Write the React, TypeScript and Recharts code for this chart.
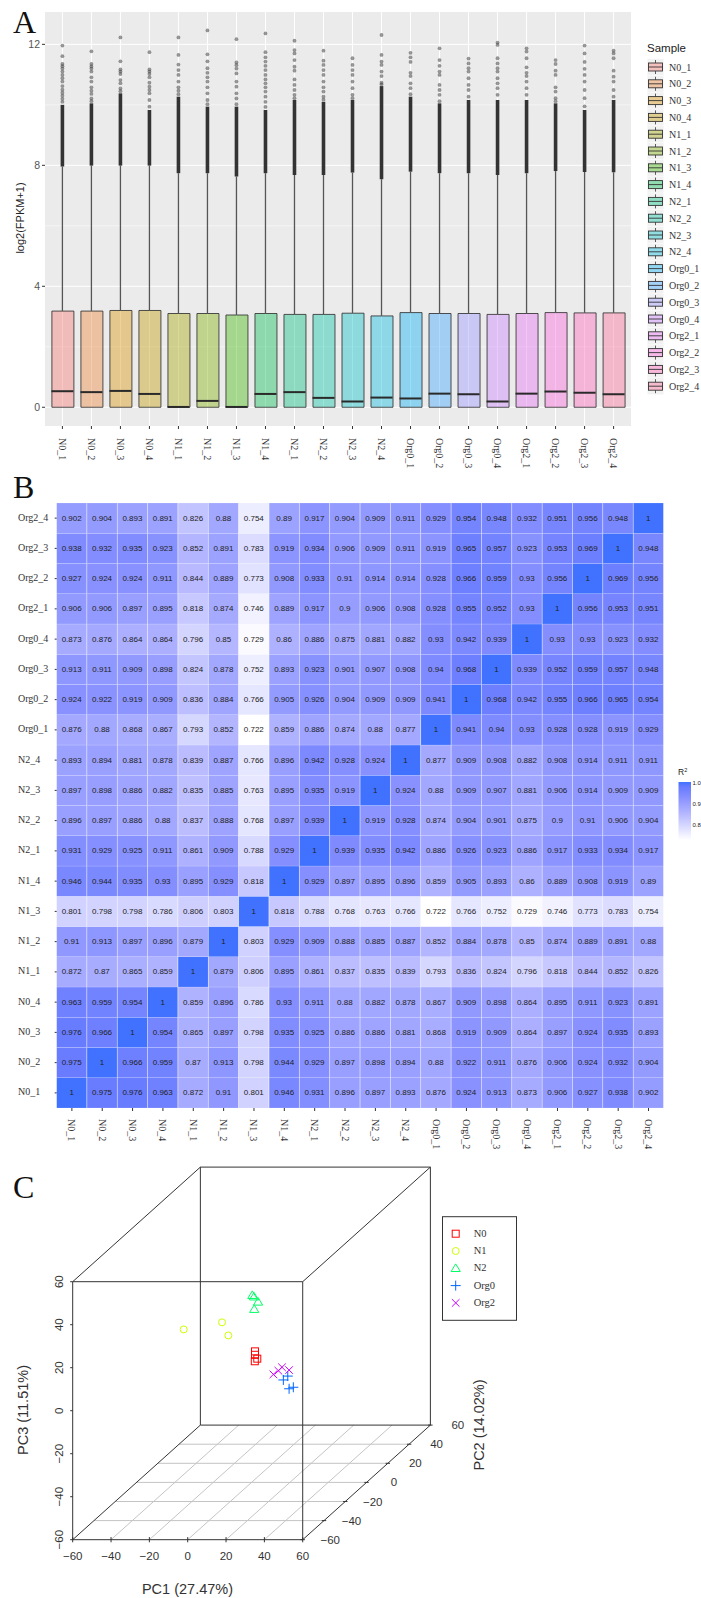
import {
  Bar,
  BarChart,
  CartesianGrid,
  Cell,
  ComposedChart,
  ReferenceLine,
  Scatter,
  ScatterChart,
  XAxis,
  YAxis,
} from 'recharts';

const SERIF = '"Liberation Serif", serif';
const SANS = '"Liberation Sans", Arial, sans-serif';

const SAMPLES = [
  'N0_1', 'N0_2', 'N0_3', 'N0_4', 'N1_1', 'N1_2', 'N1_3', 'N1_4', 'N2_1', 'N2_2',
  'N2_3', 'N2_4', 'Org0_1', 'Org0_2', 'Org0_3', 'Org0_4', 'Org2_1', 'Org2_2', 'Org2_3', 'Org2_4',
];
const HUES = [
  '#F8766D', '#EA8331', '#D89000', '#C09B00', '#A3A500', '#7CAE00', '#39B600', '#00BB4E', '#00BF7D', '#00C1A3',
  '#00BFC4', '#00BAE0', '#00B0F6', '#35A2FF', '#9590FF', '#C77CFF', '#E76BF3', '#FA62DB', '#FF62BC', '#FF6A98',
];

// panel A: box stats
const Q3 = [3.18, 3.18, 3.2, 3.2, 3.1, 3.1, 3.05, 3.1, 3.07, 3.07, 3.11, 3.02, 3.13, 3.1, 3.1, 3.07, 3.1, 3.13, 3.12, 3.12];
const MEDIANS = [0.53, 0.5, 0.54, 0.44, 0.01, 0.21, 0.01, 0.44, 0.5, 0.31, 0.19, 0.32, 0.29, 0.45, 0.43, 0.19, 0.45, 0.52, 0.48, 0.43];
const WHISKER_TOP = [7.96, 7.99, 7.99, 7.99, 7.74, 7.74, 7.63, 7.74, 7.68, 7.68, 7.76, 7.54, 7.79, 7.74, 7.74, 7.68, 7.74, 7.81, 7.78, 7.77];
// top of the solid run of overlapping outliers
const DENSE_TOP = [10.0, 10.05, 10.38, 9.83, 10.27, 9.94, 9.94, 9.83, 10.16, 10.1, 10.16, 10.62, 10.27, 10.05, 10.16, 10.16, 10.16, 10.05, 9.83, 10.16];
// the separate outlier dots above that run
const OUTLIERS = [
  [11.96, 11.61, 11.35, 11.28, 11.2, 11.1, 10.99, 10.88, 10.77, 10.62, 10.5, 10.4, 10.3, 10.2, 10.1],
  [11.77, 11.35, 11.27, 11.2, 11.1, 10.91, 10.77, 10.58, 10.47, 10.36, 10.21, 10.12],
  [12.23, 11.44, 11.17, 11.1, 11.02, 10.82, 10.71, 10.54, 10.45],
  [11.74, 11.17, 11.1, 11.02, 10.91, 10.73, 10.6, 10.49, 10.38, 10.16, 9.94],
  [12.23, 11.65, 11.33, 11.15, 10.99, 10.77, 10.58, 10.47, 10.35],
  [12.46, 11.67, 11.44, 11.21, 11.06, 10.91, 10.77, 10.58, 10.38, 10.16, 10.02],
  [12.17, 11.4, 11.31, 11.2, 11.04, 10.77, 10.6, 10.38, 10.21, 10.02],
  [12.36, 11.74, 11.57, 11.43, 11.29, 11.15, 10.99, 10.84, 10.71, 10.58, 10.44, 10.27, 10.1, 9.93],
  [12.12, 11.81, 11.7, 11.48, 11.26, 11.13, 10.84, 10.66, 10.49, 10.33, 10.22],
  [11.79, 11.46, 11.32, 11.15, 10.99, 10.77, 10.58, 10.44, 10.27, 10.17],
  [11.54, 11.32, 11.15, 10.99, 10.77, 10.55, 10.33, 10.22],
  [12.31, 11.65, 11.43, 11.32, 11.1, 10.95, 10.73, 10.68],
  [11.72, 11.57, 11.42, 11.06, 10.95, 10.71, 10.55, 10.35],
  [11.87, 11.48, 11.29, 11.1, 10.99, 10.66, 10.49, 10.33, 10.12],
  [11.53, 11.37, 11.21, 11.1, 10.88, 10.66, 10.49, 10.27],
  [12.06, 11.98, 11.54, 11.37, 11.21, 11.1, 10.88, 10.71, 10.55, 10.33],
  [11.87, 11.76, 11.54, 11.24, 11.06, 10.95, 10.77, 10.55, 10.33],
  [11.48, 11.35, 11.13, 10.99, 10.58, 10.44, 10.22, 10.12],
  [11.96, 11.7, 11.42, 11.19, 10.99, 10.77, 10.49, 10.22, 9.95],
  [11.79, 11.7, 11.54, 11.13, 10.93, 10.77, 10.49, 10.27],
];
const Y_TICKS_A = [0, 4, 8, 12];
const Y_MINOR_A = [2, 6, 10];

// panel B: R2 by sample, each row in SAMPLES order (N0_1 first)
const R2_ROWS = [
  [1, 0.975, 0.976, 0.963, 0.872, 0.91, 0.801, 0.946, 0.931, 0.896, 0.897, 0.893, 0.876, 0.924, 0.913, 0.873, 0.906, 0.927, 0.938, 0.902],
  [0.975, 1, 0.966, 0.959, 0.87, 0.913, 0.798, 0.944, 0.929, 0.897, 0.898, 0.894, 0.88, 0.922, 0.911, 0.876, 0.906, 0.924, 0.932, 0.904],
  [0.976, 0.966, 1, 0.954, 0.865, 0.897, 0.798, 0.935, 0.925, 0.886, 0.886, 0.881, 0.868, 0.919, 0.909, 0.864, 0.897, 0.924, 0.935, 0.893],
  [0.963, 0.959, 0.954, 1, 0.859, 0.896, 0.786, 0.93, 0.911, 0.88, 0.882, 0.878, 0.867, 0.909, 0.898, 0.864, 0.895, 0.911, 0.923, 0.891],
  [0.872, 0.87, 0.865, 0.859, 1, 0.879, 0.806, 0.895, 0.861, 0.837, 0.835, 0.839, 0.793, 0.836, 0.824, 0.796, 0.818, 0.844, 0.852, 0.826],
  [0.91, 0.913, 0.897, 0.896, 0.879, 1, 0.803, 0.929, 0.909, 0.888, 0.885, 0.887, 0.852, 0.884, 0.878, 0.85, 0.874, 0.889, 0.891, 0.88],
  [0.801, 0.798, 0.798, 0.786, 0.806, 0.803, 1, 0.818, 0.788, 0.768, 0.763, 0.766, 0.722, 0.766, 0.752, 0.729, 0.746, 0.773, 0.783, 0.754],
  [0.946, 0.944, 0.935, 0.93, 0.895, 0.929, 0.818, 1, 0.929, 0.897, 0.895, 0.896, 0.859, 0.905, 0.893, 0.86, 0.889, 0.908, 0.919, 0.89],
  [0.931, 0.929, 0.925, 0.911, 0.861, 0.909, 0.788, 0.929, 1, 0.939, 0.935, 0.942, 0.886, 0.926, 0.923, 0.886, 0.917, 0.933, 0.934, 0.917],
  [0.896, 0.897, 0.886, 0.88, 0.837, 0.888, 0.768, 0.897, 0.939, 1, 0.919, 0.928, 0.874, 0.904, 0.901, 0.875, 0.9, 0.91, 0.906, 0.904],
  [0.897, 0.898, 0.886, 0.882, 0.835, 0.885, 0.763, 0.895, 0.935, 0.919, 1, 0.924, 0.88, 0.909, 0.907, 0.881, 0.906, 0.914, 0.909, 0.909],
  [0.893, 0.894, 0.881, 0.878, 0.839, 0.887, 0.766, 0.896, 0.942, 0.928, 0.924, 1, 0.877, 0.909, 0.908, 0.882, 0.908, 0.914, 0.911, 0.911],
  [0.876, 0.88, 0.868, 0.867, 0.793, 0.852, 0.722, 0.859, 0.886, 0.874, 0.88, 0.877, 1, 0.941, 0.94, 0.93, 0.928, 0.928, 0.919, 0.929],
  [0.924, 0.922, 0.919, 0.909, 0.836, 0.884, 0.766, 0.905, 0.926, 0.904, 0.909, 0.909, 0.941, 1, 0.968, 0.942, 0.955, 0.966, 0.965, 0.954],
  [0.913, 0.911, 0.909, 0.898, 0.824, 0.878, 0.752, 0.893, 0.923, 0.901, 0.907, 0.908, 0.94, 0.968, 1, 0.939, 0.952, 0.959, 0.957, 0.948],
  [0.873, 0.876, 0.864, 0.864, 0.796, 0.85, 0.729, 0.86, 0.886, 0.875, 0.881, 0.882, 0.93, 0.942, 0.939, 1, 0.93, 0.93, 0.923, 0.932],
  [0.906, 0.906, 0.897, 0.895, 0.818, 0.874, 0.746, 0.889, 0.917, 0.9, 0.906, 0.908, 0.928, 0.955, 0.952, 0.93, 1, 0.956, 0.953, 0.951],
  [0.927, 0.924, 0.924, 0.911, 0.844, 0.889, 0.773, 0.908, 0.933, 0.91, 0.914, 0.914, 0.928, 0.966, 0.959, 0.93, 0.956, 1, 0.969, 0.956],
  [0.938, 0.932, 0.935, 0.923, 0.852, 0.891, 0.783, 0.919, 0.934, 0.906, 0.909, 0.911, 0.919, 0.965, 0.957, 0.923, 0.953, 0.969, 1, 0.948],
  [0.902, 0.904, 0.893, 0.891, 0.826, 0.88, 0.754, 0.89, 0.917, 0.904, 0.909, 0.911, 0.929, 0.954, 0.948, 0.932, 0.951, 0.956, 0.948, 1],
];

// panel C: positions read in front-face units (PC1 across, PC3 up)
const N0_POINTS = [{ x: 35.1, y: 27.6 }, { x: 35.1, y: 26 }, { x: 36.3, y: 24.2 }, { x: 35, y: 23 }];
const N1_POINTS = [{ x: -2.1, y: 37.8 }, { x: 17.9, y: 41.1 }, { x: 21.2, y: 35 }];
const N2_POINTS = [{ x: 33.7, y: 53.7 }, { x: 34.6, y: 53 }, { x: 36.7, y: 50.6 }, { x: 34.7, y: 47.2 }];
const ORG0_POINTS = [{ x: 49.9, y: 14.3 }, { x: 52.2, y: 16.1 }, { x: 52.9, y: 10.2 }, { x: 55.1, y: 10.9 }];
const ORG2_POINTS = [{ x: 44.7, y: 16.9 }, { x: 47.3, y: 18.6 }, { x: 49.2, y: 20.2 }, { x: 52.9, y: 18.9 }];
const PCA_GROUPS = [
  { name: 'N0', kind: 'square', color: '#FF0000', points: N0_POINTS },
  { name: 'N1', kind: 'circle', color: '#CCFF00', points: N1_POINTS },
  { name: 'N2', kind: 'triangle', color: '#00FF66', points: N2_POINTS },
  { name: 'Org0', kind: 'plus', color: '#0066FF', points: ORG0_POINTS },
  { name: 'Org2', kind: 'cross', color: '#CC00FF', points: ORG2_POINTS },
];
const PC_TICKS = [-60, -40, -20, 0, 20, 40, 60];

const boxRows = SAMPLES.map((name, i) => ({ x: i + 1, name, q1: 0, q3: Q3[i], y: MEDIANS[i] }));
const outlierPoints = OUTLIERS.flatMap((values, i) => values.map((y) => ({ x: i + 1, y })));

const tickFmt = (v: number) => String(v).replace('-', '\u2212');

// white to blue, same stops as the R2 legend bar
function r2Color(v: number) {
  const stops: [number, number[]][] = [
    [0.722, [255, 255, 255]],
    [0.85, [180, 182, 255]],
    [0.93, [132, 142, 255]],
    [0.976, [104, 124, 255]],
    [1, [64, 114, 255]],
  ];
  for (let i = 1; i < stops.length; i++) {
    if (v <= stops[i][0]) {
      const [a, ca] = stops[i - 1];
      const [b, cb] = stops[i];
      const t = (v - a) / (b - a);
      const c = ca.map((n, k) => Math.round(n + (cb[k] - n) * t));
      return `rgb(${c.join(',')})`;
    }
  }
  return 'rgb(64,114,255)';
}

// shift of the depth axis on the page, in front-face units
function project(pc1: number, pc2: number, pc3: number) {
  return { x: pc1 + ((pc2 + 60) * 66.6) / 120, y: pc3 + ((pc2 + 60) * 53.3) / 120 };
}

function DownTick({ x, y, payload, dy, labels }: any) {
  const label = labels[payload.index] ?? '';
  return (
    <g transform={`translate(${x},${y + dy})`}>
      <text transform="rotate(90)" textAnchor="start" dominantBaseline="central" fontSize={10} fontFamily={SERIF} fill="#333">
        {label}
      </text>
    </g>
  );
}

function BoxPanel() {
  return (
    <ComposedChart
      width={701}
      height={480}
      data={boxRows}
      margin={{ top: 12, right: 70, bottom: 4, left: 15 }}
      style={{ position: 'absolute', left: 0, top: 0 }}
    >
      <CartesianGrid fill="#EBEBEB" stroke="#fff" strokeWidth={1} horizontalValues={Y_TICKS_A} verticalValues={boxRows.map((d) => d.x)} />
      <CartesianGrid stroke="#fff" strokeWidth={0.5} vertical={false} horizontalValues={Y_MINOR_A} />
      <XAxis
        type="number"
        dataKey="x"
        domain={[0.4, 20.6]}
        ticks={boxRows.map((d) => d.x)}
        interval={0}
        height={50}
        axisLine={false}
        tickSize={3}
        tickLine={{ stroke: '#333' }}
        tick={(p: any) => <DownTick x={p.x} y={p.y} dy={7} labels={SAMPLES} payload={{ index: p.payload.value - 1 }} />}
      />
      <YAxis
        type="number"
        dataKey="y"
        domain={[-0.62, 13.07]}
        allowDataOverflow
        ticks={Y_TICKS_A}
        width={30}
        axisLine={false}
        tickSize={3}
        tickMargin={2}
        tickLine={{ stroke: '#333' }}
        tick={{ fontSize: 10.5, fill: '#555', fontFamily: SANS }}
      />
      {boxRows.map((d, i) => (
        <ReferenceLine
          key={`w${i}`}
          segment={[{ x: d.x, y: d.q3 }, { x: d.x, y: WHISKER_TOP[i] }]}
          stroke="#555"
          strokeWidth={1.3}
        />
      ))}
      {boxRows.map((d, i) => (
        <ReferenceLine
          key={`d${i}`}
          segment={[{ x: d.x, y: WHISKER_TOP[i] }, { x: d.x, y: DENSE_TOP[i] }]}
          stroke="#333"
          strokeWidth={3.6}
        />
      ))}
      <Bar
        dataKey={(d: any) => [d.q1, d.q3]}
        barSize={22}
        stroke="#333"
        strokeOpacity={0.85}
        strokeWidth={1}
        isAnimationActive={false}
      >
        {boxRows.map((d, i) => (
          <Cell key={d.name} fill={HUES[i]} fillOpacity={0.4} />
        ))}
      </Bar>
      <Scatter
        data={boxRows}
        dataKey="y"
        isAnimationActive={false}
        shape={(p: any) => <line x1={p.cx - 11} x2={p.cx + 11} y1={p.cy} y2={p.cy} stroke="#2A2A2A" strokeWidth={2} />}
      />
      <Scatter
        data={outlierPoints}
        dataKey="y"
        isAnimationActive={false}
        shape={(p: any) => <circle cx={p.cx} cy={p.cy} r={1.9} fill="#333" fillOpacity={0.5} />}
      />
    </ComposedChart>
  );
}

const heatRows = SAMPLES.map((name) => {
  const row: Record<string, string | number> = { name };
  SAMPLES.forEach((s) => {
    row[s] = 1;
  });
  return row;
});
const HEAT_TICKS = SAMPLES.map((_, i) => i + 0.5);

function HeatPanel() {
  return (
    <BarChart
      width={701}
      height={680}
      data={heatRows}
      barCategoryGap={0}
      margin={{ top: 23, right: 37.3, bottom: 4, left: 2 }}
      style={{ position: 'absolute', left: 0, top: 480 }}
    >
      <XAxis
        dataKey="name"
        interval={0}
        height={48}
        axisLine={false}
        tickSize={3}
        tickLine={{ stroke: '#333' }}
        tick={(p: any) => <DownTick x={p.x} y={p.y} dy={6} labels={SAMPLES} payload={{ index: p.index }} />}
      />
      <YAxis
        type="number"
        domain={[0, 20]}
        ticks={HEAT_TICKS}
        interval={0}
        width={54.7}
        axisLine={false}
        tickSize={2}
        tickLine={{ stroke: '#333' }}
        tick={(p: any) => (
          <text x={18} y={p.y - 1} dominantBaseline="central" fontSize={10} fontFamily={SERIF} fill="#333">
            {SAMPLES[Math.floor(p.payload.value)]}
          </text>
        )}
      />
      {SAMPLES.map((s, rowIndex) => (
        <Bar
          key={s}
          dataKey={s}
          stackId="r2"
          isAnimationActive={false}
          shape={(p: any) => {
            const value = R2_ROWS[rowIndex][p.index];
            return (
              <g>
                <rect x={p.x} y={p.y} width={p.width} height={p.height} fill={r2Color(value)} stroke="#fff" strokeOpacity={0.3} strokeWidth={0.5} />
                <text
                  x={p.x + p.width / 2}
                  y={p.y + p.height / 2}
                  textAnchor="middle"
                  dominantBaseline="central"
                  fontSize={8}
                  fontFamily={SANS}
                  fill="#222"
                >
                  {value}
                </text>
              </g>
            );
          }}
        />
      ))}
    </BarChart>
  );
}

function PcaMarker({ cx, cy, kind, color }: any) {
  const common = { fill: 'none', stroke: color, strokeWidth: 1 };
  if (kind === 'square') return <rect x={cx - 3.5} y={cy - 3.5} width={7} height={7} {...common} />;
  if (kind === 'circle') return <circle cx={cx} cy={cy} r={3.5} {...common} />;
  if (kind === 'triangle') return <path d={`M${cx - 4.6} ${cy + 3.2}L${cx} ${cy - 4.4}L${cx + 4.6} ${cy + 3.2}Z`} {...common} />;
  if (kind === 'plus') return <path d={`M${cx - 5} ${cy}H${cx + 5}M${cx} ${cy - 5}V${cy + 5}`} {...common} />;
  return <path d={`M${cx - 3.8} ${cy - 3.8}L${cx + 3.8} ${cy + 3.8}M${cx - 3.8} ${cy + 3.8}L${cx + 3.8} ${cy - 3.8}`} {...common} />;
}

const depthTicks = PC_TICKS.map((v) => ({ ...project(60, v, -60), label: v }));

function edge(a: number[], b: number[]) {
  const p = project(a[0], a[1], a[2]);
  const q = project(b[0], b[1], b[2]);
  return [{ x: p.x, y: p.y }, { x: q.x, y: q.y }];
}
const BOX_EDGES = [
  [[-60, -60, -60], [60, -60, -60]],
  [[-60, -60, 60], [60, -60, 60]],
  [[-60, -60, -60], [-60, -60, 60]],
  [[60, -60, -60], [60, -60, 60]],
  [[-60, 60, -60], [60, 60, -60]],
  [[-60, 60, 60], [60, 60, 60]],
  [[-60, 60, -60], [-60, 60, 60]],
  [[60, 60, -60], [60, 60, 60]],
  [[-60, -60, -60], [-60, 60, -60]],
  [[60, -60, -60], [60, 60, -60]],
  [[-60, -60, 60], [-60, 60, 60]],
  [[60, -60, 60], [60, 60, 60]],
];
const FLOOR_LINES = [-40, -20, 0, 20, 40].flatMap((v) => [
  edge([-60, v, -60], [60, v, -60]),
  edge([v, -60, -60], [v, 60, -60]),
]);

function PcaPanel() {
  return (
    <ScatterChart
      width={701}
      height={448}
      margin={{ top: 2.7, right: 206.6, bottom: 4.3, left: 32.7 }}
      style={{ position: 'absolute', left: 0, top: 1150 }}
    >
      <XAxis
        type="number"
        dataKey="x"
        domain={[-60, 160]}
        ticks={PC_TICKS}
        interval={0}
        height={54}
        axisLine={false}
        tickLine={false}
        tick={(p: any) => (
          <g>
            <line x1={p.x} x2={p.x} y1={p.y - 10.6} y2={p.y - 5.4} stroke="#333" />
            <text x={p.x} y={p.y + 12} textAnchor="middle" fontSize={11.5} fontFamily={SANS} fill="#333">
              {tickFmt(p.payload.value)}
            </text>
          </g>
        )}
      />
      <YAxis
        type="number"
        dataKey="y"
        domain={[-60, 120]}
        ticks={PC_TICKS}
        interval={0}
        width={40}
        axisLine={false}
        tickLine={false}
        tick={(p: any) => {
          const axisX = 72.7;
          return (
            <g>
              <line x1={axisX - 2.5} x2={axisX} y1={p.y} y2={p.y} stroke="#333" />
              <text
                transform={`translate(63,${p.y}) rotate(-90)`}
                textAnchor="middle"
                fontSize={11.5}
                fontFamily={SANS}
                fill="#333"
              >
                {tickFmt(p.payload.value)}
              </text>
            </g>
          );
        }}
      />
      {FLOOR_LINES.map((segment, i) => (
        <ReferenceLine key={`f${i}`} segment={segment as any} stroke="#C4C4C4" strokeWidth={1} />
      ))}
      {BOX_EDGES.map((e, i) => (
        <ReferenceLine key={`b${i}`} segment={edge(e[0], e[1]) as any} stroke="#333" strokeWidth={1} />
      ))}
      <Scatter
        data={depthTicks}
        dataKey="y"
        isAnimationActive={false}
        shape={(p: any) => (
          <g>
            <line x1={p.cx - 2.2} x2={p.cx + 2.2} y1={p.cy} y2={p.cy} stroke="#333" />
            <text x={p.cx + 27.5} y={p.cy} textAnchor="middle" dominantBaseline="central" fontSize={11.5} fontFamily={SANS} fill="#333">
              {tickFmt(p.label ?? p.payload?.label)}
            </text>
          </g>
        )}
      />
      {PCA_GROUPS.map((g) => (
        <Scatter
          key={g.name}
          name={g.name}
          data={g.points}
          dataKey="y"
          isAnimationActive={false}
          shape={(p: any) => <PcaMarker cx={p.cx} cy={p.cy} kind={g.kind} color={g.color} />}
        />
      ))}
    </ScatterChart>
  );
}

function Overlay() {
  return (
    <svg width={701} height={1598} style={{ position: 'absolute', left: 0, top: 0, pointerEvents: 'none' }}>
      <defs>
        <linearGradient id="r2-bar" x1="0" y1="0" x2="0" y2="1">
          <stop offset="0%" stopColor={r2Color(1)} />
          <stop offset="8.6%" stopColor={r2Color(0.976)} />
          <stop offset="25%" stopColor={r2Color(0.93)} />
          <stop offset="54%" stopColor={r2Color(0.85)} />
          <stop offset="100%" stopColor={r2Color(0.722)} />
        </linearGradient>
      </defs>
      {[['A', 33], ['B', 498], ['C', 1198]].map(([t, y]) => (
        <text key={t} x={13} y={y} fontSize={32} fontFamily={SERIF} fill="#111">
          {t}
        </text>
      ))}

      <text transform="translate(24,218) rotate(-90)" textAnchor="middle" fontSize={11} fontFamily={SANS} fill="#222">
        log2(FPKM+1)
      </text>
      <text x={647} y={52} fontSize={11.5} fontFamily={SANS} fill="#222">
        Sample
      </text>
      {SAMPLES.map((s, i) => {
        const cy = 67 + 16.8 * i;
        return (
          <g key={s}>
            <rect x={647.5} y={cy - 8.2} width={16} height={16.4} fill="#F2F2F2" />
            <line x1={655.5} x2={655.5} y1={cy - 7} y2={cy + 7} stroke="#333" strokeWidth={0.8} />
            <rect x={648.5} y={cy - 4} width={14} height={8} fill="#F2F2F2" />
            <rect x={648.5} y={cy - 4} width={14} height={8} fill={HUES[i]} fillOpacity={0.4} stroke="#333" strokeWidth={0.9} />
            <line x1={648.5} x2={662.5} y1={cy} y2={cy} stroke="#333" strokeWidth={0.9} />
            <text x={669} y={cy} dominantBaseline="central" fontSize={10} fontFamily={SERIF} fill="#333">
              {s}
            </text>
          </g>
        );
      })}

      <text x={678} y={775} fontSize={8.5} fontFamily={SANS} fill="#222">
        R
        <tspan dy={-3} fontSize={5.5}>2</tspan>
      </text>
      <rect x={678.5} y={782} width={12.5} height={58} fill="url(#r2-bar)" />
      {['1.0', '0.9', '0.8'].map((t, i) => (
        <text key={t} x={692.4} y={783 + 21 * i} dominantBaseline="central" fontSize={6} fontFamily={SANS} fill="#222">
          {t}
        </text>
      ))}

      <text x={187.5} y={1594} textAnchor="middle" fontSize={14.5} fontFamily={SANS} fill="#333">
        PC1 (27.47%)
      </text>
      <text transform="translate(28,1410) rotate(-90)" textAnchor="middle" fontSize={14.5} fontFamily={SANS} fill="#333">
        PC3 (11.51%)
      </text>
      <text transform="translate(484,1425) rotate(-90)" textAnchor="middle" fontSize={14.5} fontFamily={SANS} fill="#333">
        PC2 (14.02%)
      </text>

      <rect x={442.5} y={1216.7} width={74} height={103.6} fill="#fff" stroke="#333" strokeWidth={1} />
      {PCA_GROUPS.map((g, i) => {
        const cy = 1233.7 + 17.3 * i;
        return (
          <g key={g.name}>
            <PcaMarker cx={455.7} cy={cy} kind={g.kind} color={g.color} />
            <text x={473.7} y={cy - 0.5} dominantBaseline="central" fontSize={10.5} fontFamily={SERIF} fill="#333">
              {g.name}
            </text>
          </g>
        );
      })}
    </svg>
  );
}

export default function App() {
  return (
    <div style={{ position: 'relative', width: 701, height: 1598, overflow: 'hidden', background: '#fff' }}>
      <style>{'body{margin:0}'}</style>
      <BoxPanel />
      <HeatPanel />
      <PcaPanel />
      <Overlay />
    </div>
  );
}
